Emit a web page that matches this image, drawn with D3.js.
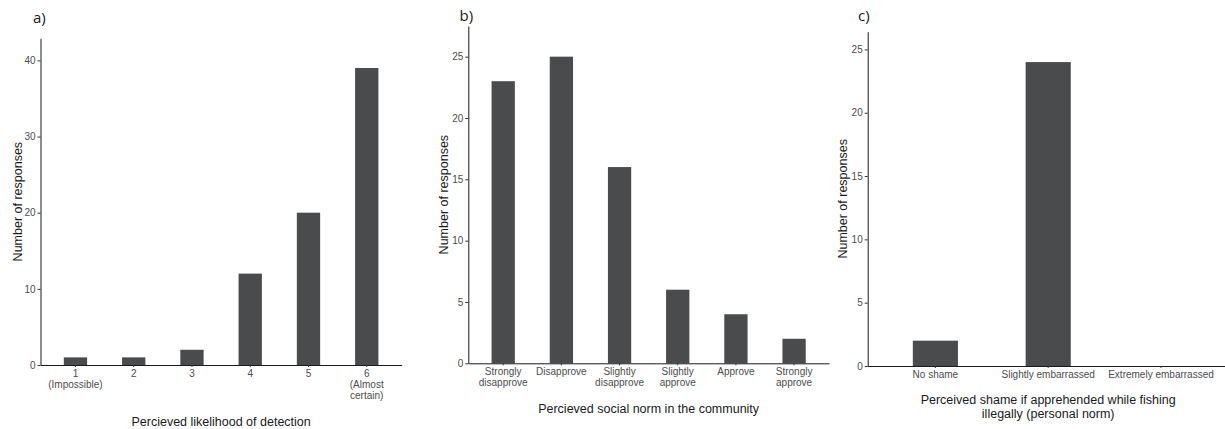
<!DOCTYPE html>
<html>
<head>
<meta charset="utf-8">
<script src="https://cdn.jsdelivr.net/npm/d3@7"></script>
<style>
  html, body { margin: 0; padding: 0; background: #fff; }
  svg { display: block; }
  .tick-label { font-family: "Liberation Sans", Arial, sans-serif; font-size: 10px; fill: #4d4d4d; }
  .axis-title { font-family: "Liberation Sans", Arial, sans-serif; font-size: 12.5px; fill: #1a1a1a; }
  .panel-tag { font-family: "Open Sans", "Noto Sans", sans-serif; font-size: 15px; fill: #1a1a1a; }
</style>
</head>
<body>
<svg id="chart" width="1225" height="429"></svg>
<script>
// Panel a: perceived likelihood of detection
const detectionCategories = ["1", "2", "3", "4", "5", "6"];
const detectionLabels = [["1", "(Impossible)"], ["2"], ["3"], ["4"], ["5"], ["6", "(Almost", "certain)"]];
const detectionCounts = [1, 1, 2, 12, 20, 39];
const detectionTicks = [0, 10, 20, 30, 40];

// Panel b: perceived social norm in the community
const normCategories = ["Strongly disapprove", "Disapprove", "Slightly disapprove", "Slightly approve", "Approve", "Strongly approve"];
const normLabels = [["Strongly", "disapprove"], ["Disapprove"], ["Slightly", "disapprove"], ["Slightly", "approve"], ["Approve"], ["Strongly", "approve"]];
const normCounts = [23, 25, 16, 6, 4, 2];
const normTicks = [0, 5, 10, 15, 20, 25];

// Panel c: perceived shame (personal norm)
const shameCategories = ["No shame", "Slightly embarrassed", "Extremely embarrassed"];
const shameLabels = [["No shame"], ["Slightly embarrassed"], ["Extremely embarrassed"]];
const shameCounts = [2, 24, 0];
const shameTicks = [0, 5, 10, 15, 20, 25];

const svg = d3.select("#chart");
const barColor = "#4a4b4d";
const axisColor = "#1a1a1a";

function drawPanel(cfg) {
  const g = svg.append("g");

  const x = d3.scaleBand()
    .domain(cfg.categories)
    .range([cfg.left, cfg.right])
    .paddingInner(0.6)
    .paddingOuter(0.4);

  const y = d3.scaleLinear()
    .domain([0, d3.max(cfg.values) * 1.1])
    .range([cfg.bottom, cfg.top]);

  // bars
  g.selectAll("rect.bar")
    .data(cfg.values)
    .join("rect")
    .attr("class", "bar")
    .attr("x", (d, i) => x(cfg.categories[i]))
    .attr("width", x.bandwidth())
    .attr("y", d => y(d))
    .attr("height", d => y(0) - y(d))
    .attr("fill", barColor);

  // y axis
  const yAxis = g.append("g")
    .attr("transform", `translate(${cfg.left},0)`)
    .call(d3.axisLeft(y).tickValues(cfg.ticks).tickSize(3).tickPadding(2).tickSizeOuter(0));
  yAxis.select(".domain").attr("stroke", axisColor).attr("stroke-width", 1);
  yAxis.selectAll(".tick line").attr("stroke", "#333").attr("stroke-width", 1);
  yAxis.selectAll(".tick text").attr("class", "tick-label").attr("font-size", null).attr("font-family", null).attr("fill", null);

  // x axis
  const xAxis = g.append("g")
    .attr("transform", `translate(0,${cfg.bottom})`)
    .call(d3.axisBottom(x).tickSize(2).tickSizeOuter(0).tickFormat(() => ""));
  xAxis.select(".domain").attr("stroke", axisColor).attr("stroke-width", 1);
  xAxis.selectAll(".tick line").attr("stroke", "#333").attr("stroke-width", 1);
  xAxis.selectAll(".tick text").remove();

  // multi-line category labels
  cfg.categories.forEach((c, i) => {
    const t = g.append("text")
      .attr("class", "tick-label")
      .attr("text-anchor", "middle")
      .attr("x", x(c) + x.bandwidth() / 2)
      .attr("y", cfg.bottom + 11.5);
    cfg.labels[i].forEach((line, k) => {
      t.append("tspan")
        .attr("x", x(c) + x.bandwidth() / 2)
        .attr("dy", k === 0 ? 0 : 11)
        .text(line);
    });
  });

  // x axis title
  const xt = g.append("text")
    .attr("class", "axis-title")
    .attr("text-anchor", "middle")
    .attr("x", (cfg.left + cfg.right) / 2)
    .attr("y", cfg.xTitleY);
  cfg.xTitle.forEach((line, k) => {
    xt.append("tspan")
      .attr("x", (cfg.left + cfg.right) / 2)
      .attr("dy", k === 0 ? 0 : 14.5)
      .text(line);
  });

  // y axis title
  g.append("text")
    .attr("class", "axis-title")
    .attr("text-anchor", "middle")
    .attr("transform", `translate(${cfg.yTitleX},${(cfg.top + cfg.bottom) / 2}) rotate(-90)`)
    .text("Number of responses");

  // panel tag
  g.append("text")
    .attr("class", "panel-tag")
    .attr("x", cfg.tagX)
    .attr("y", cfg.tagY)
    .text(cfg.tag);
}

drawPanel({
  categories: detectionCategories, labels: detectionLabels, values: detectionCounts, ticks: detectionTicks,
  left: 40.5, right: 401.7, top: 38.3, bottom: 365,
  xTitle: ["Percieved likelihood of detection"], xTitleY: 426,
  yTitleX: 21.5, tag: "a)", tagX: 33, tagY: 23
});

drawPanel({
  categories: normCategories, labels: normLabels, values: normCounts, ticks: normTicks,
  left: 468.3, right: 829, top: 26, bottom: 363.3,
  xTitle: ["Percieved social norm in the community"], xTitleY: 413,
  yTitleX: 447.5, tag: "b)", tagX: 459.5, tagY: 21
});

drawPanel({
  categories: shameCategories, labels: shameLabels, values: shameCounts, ticks: shameTicks,
  left: 867.7, right: 1228.7, top: 31.7, bottom: 366,
  xTitle: ["Perceived shame if apprehended while fishing", "illegally (personal norm)"], xTitleY: 403.5,
  yTitleX: 847, tag: "c)", tagX: 858, tagY: 21
});
</script>
</body>
</html>
